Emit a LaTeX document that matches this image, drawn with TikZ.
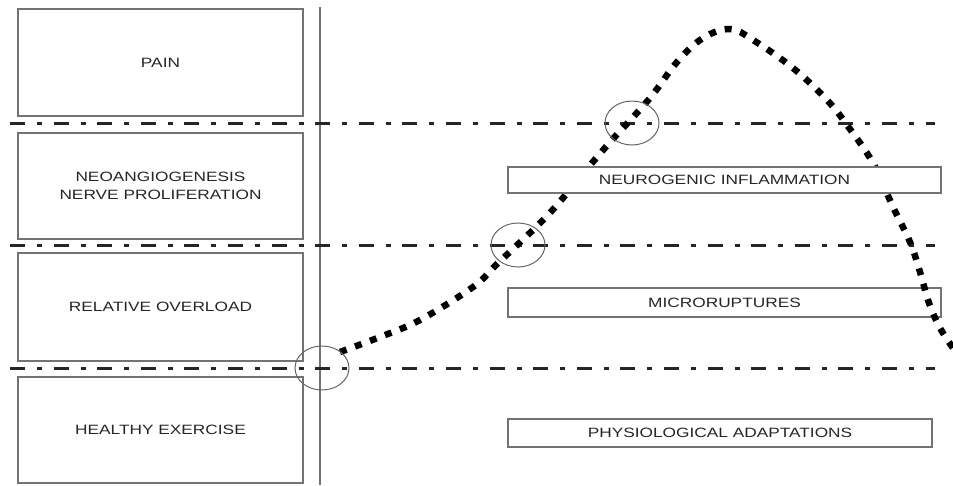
\documentclass[tikz,border=0pt]{standalone}
\usepackage{fontspec}
\newfontfamily\lblfont[FakeStretch=1.28]{Liberation Sans}
\usetikzlibrary{shapes.geometric}
\begin{document}
\begin{tikzpicture}[x=1pt,y=-1pt,
  box/.style={draw=black!55, line width=1.1pt, fill=white, inner sep=0pt,
    text=black!85, font=\lblfont\fontsize{13.5}{18}\selectfont, align=center},
  level/.style={draw=black!85, line width=3pt,
    dash pattern=on 15pt off 12pt on 5pt off 11.6pt},
  ring/.style={ellipse, draw=black!60, line width=1pt, inner sep=0pt,
    minimum width=54pt, minimum height=44pt},
  course/.style={draw=black, line width=6.5pt, line cap=butt,
    dash pattern=on 7pt off 9pt}]
  \useasboundingbox (0,0) rectangle (953,485);

  % stage boxes on the left
  \node[box, minimum width=285pt, minimum height=107pt] (pain) at (160.5,62.5) {PAIN};
  \node[box, minimum width=285pt, minimum height=106pt] (neo) at (160.5,186) {NEOANGIOGENESIS\\NERVE PROLIFERATION};
  \node[box, minimum width=285pt, minimum height=108pt] (rel) at (160.5,307) {RELATIVE OVERLOAD};
  \node[box, minimum width=285pt, minimum height=106pt] (hea) at (160.5,430) {HEALTHY EXERCISE};

  % vertical axis
  \coordinate (axtop) at (320,7);
  \coordinate (axbot) at (320,485);
  \draw[black!55, line width=1.3pt] (axtop) -- (axbot);

  % threshold lines
  \foreach \yy/\nm in {123/a,245/b,368/c} {
    \coordinate (l\nm) at (10,\yy);
    \coordinate (r\nm) at (935,\yy);
    \draw[level] (l\nm) -- (r\nm);
  }

  % lower boxes on the right (beneath the curve)
  \node[box, minimum width=433pt, minimum height=29pt] (micro) at (724.5,302.5) {MICRORUPTURES};
  \node[box, minimum width=424pt, minimum height=28pt] (phys) at (720,433) {PHYSIOLOGICAL ADAPTATIONS};

  % load curve
  \draw[course] plot[smooth, tension=0.6] coordinates {
    (340,352) (380,337) (420,320) (473,287) (497,264) (535,228) (557,205)
    (592,163) (612,140) (650,98) (677,62) (703,38) (730,29) (753,40)
    (793,68) (827,100) (847,125) (873,163) (893,207) (910,242) (920,272)
    (929,303) (940,328) (953,348)};

  % upper box on the right (over the curve)
  \node[box, minimum width=433pt, minimum height=26pt] (neuro) at (724.5,180) {NEUROGENIC INFLAMMATION};

  % crossing markers
  \node[ring] (c1) at (322,368) {};
  \node[ring] (c2) at (518,245) {};
  \node[ring] (c3) at (632,123) {};
\end{tikzpicture}
\end{document}
